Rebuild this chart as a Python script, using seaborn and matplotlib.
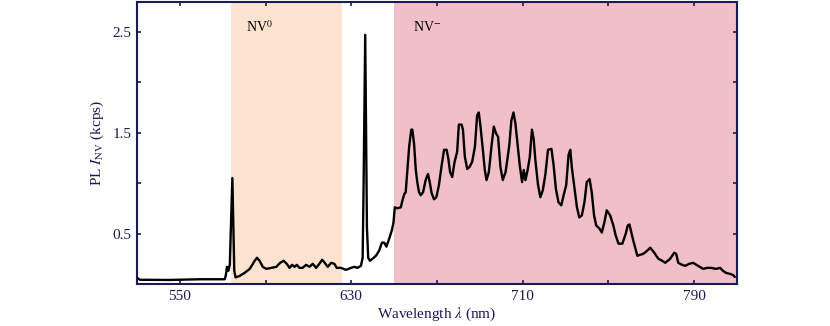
import numpy as np
import pandas as pd
import matplotlib
matplotlib.use("Agg")
import matplotlib.pyplot as plt
from matplotlib.ticker import FixedLocator
import seaborn as sns

# ---- data ----
wavelength = [530.0, 531.4, 545.0, 559.3, 570.9, 571.4, 572.0, 572.6, 573.3, 574.5,
              575.4, 576.0, 577.9, 580.2, 582.6, 584.1, 584.9, 586.0, 587.2,
              588.7, 590.3, 592.7, 595.0, 596.8, 598.4, 599.9, 601.2, 602.4, 603.5,
              604.6, 605.8, 607.3, 608.9, 610.5, 612.0, 613.6, 615.1, 616.4, 617.6,
              619.0, 620.6, 622.1, 623.2, 625.2, 627.5, 629.9, 631.4, 632.9, 634.5,
              635.3, 635.7, 636.5, 637.3, 637.9, 638.7, 639.9, 641.5, 643.0, 644.3,
              645.4, 646.4, 647.7, 648.9, 649.7, 650.3, 651.5, 653.1, 653.9, 654.7,
              655.4, 656.2, 657.0, 658.0, 658.5, 659.3, 660.1, 660.8, 661.6, 662.4,
              663.5, 664.7, 665.8, 666.6, 667.5, 668.6, 669.7, 670.9, 672.2, 673.3,
              674.5, 675.3, 676.1, 677.1, 678.2, 679.4, 680.2, 681.5, 682.1, 683.0,
              684.1, 685.2, 686.4, 687.7, 688.7, 689.5, 690.3, 691.4, 692.3, 693.1,
              694.2, 695.4, 696.5, 697.6, 698.5, 699.6, 700.7, 702.0, 703.2, 703.8,
              704.7, 705.7, 706.6, 707.7, 708.6, 709.7, 710.5, 711.3, 712.3, 713.3,
              714.3, 715.1, 715.9, 717.1, 718.2, 719.4, 720.6, 721.8, 723.4, 724.4,
              725.5, 726.7, 728.0, 729.1, 730.3, 731.4, 732.2, 732.9, 734.1, 735.3,
              736.4, 737.6, 738.8, 739.9, 741.2, 742.2, 743.3, 744.3, 745.8, 746.9,
              748.1, 749.2, 750.8, 752.3, 753.4, 754.7, 756.5, 758.1, 759.0, 759.8,
              761.6, 763.5, 766.3, 768.1, 769.5, 771.4, 773.3, 775.1, 776.5, 778.8,
              780.7, 781.6, 782.6, 784.4, 785.8, 787.7, 789.5, 791.9, 794.2, 796.1,
              797.9, 800.2, 802.1, 803.5, 804.9, 806.8, 808.1, 809.0]
intensity = [0.062, 0.042, 0.040, 0.047, 0.047, 0.08, 0.17, 0.13, 0.19, 1.05,
             0.13, 0.065, 0.08, 0.11, 0.15, 0.20, 0.23, 0.26, 0.23,
             0.17, 0.15, 0.16, 0.17, 0.21, 0.23, 0.20, 0.16, 0.19, 0.17,
             0.19, 0.16, 0.16, 0.19, 0.17, 0.20, 0.16, 0.20, 0.24, 0.21,
             0.17, 0.21, 0.20, 0.16, 0.16, 0.14, 0.16, 0.17, 0.16, 0.18,
             0.26, 0.90, 2.47, 0.56, 0.26, 0.23, 0.25, 0.28, 0.33, 0.41,
             0.41, 0.37, 0.45, 0.53, 0.61, 0.76, 0.75, 0.76, 0.83, 0.89,
             0.91, 1.13, 1.36, 1.53, 1.53, 1.39, 1.13, 1.01, 0.91, 0.88,
             0.91, 1.03, 1.09, 1.01, 0.90, 0.84, 0.86, 0.98, 1.18, 1.33,
             1.33, 1.24, 1.11, 1.06, 1.21, 1.31, 1.58, 1.58, 1.53, 1.26,
             1.14, 1.16, 1.21, 1.36, 1.67, 1.70, 1.56, 1.33, 1.13, 1.03,
             1.11, 1.36, 1.56, 1.49, 1.46, 1.16, 1.03, 1.11, 1.29, 1.39,
             1.62, 1.70, 1.59, 1.36, 1.18, 1.01, 1.13, 1.03, 1.13, 1.26,
             1.53, 1.44, 1.23, 0.99, 0.86, 0.93, 1.09, 1.33, 1.34, 1.18,
             0.94, 0.81, 0.78, 0.88, 0.98, 1.28, 1.33, 1.16, 0.96, 0.76,
             0.66, 0.68, 0.81, 1.01, 1.04, 0.91, 0.68, 0.58, 0.55, 0.51,
             0.61, 0.73, 0.68, 0.58, 0.48, 0.40, 0.40, 0.50, 0.58, 0.59,
             0.43, 0.28, 0.30, 0.33, 0.36, 0.31, 0.25, 0.23, 0.21, 0.25,
             0.31, 0.30, 0.21, 0.19, 0.18, 0.20, 0.21, 0.18, 0.15, 0.16,
             0.16, 0.15, 0.16, 0.13, 0.11, 0.10, 0.09, 0.07]

nv0_band = [573.8, 625.6]
nvm_band = [649.8, 812.0]
band_labels = [r"NV$^0$", r"NV$^{-}$"]
label_pos_x = [581.0, 659.0]
label_pos_y = [2.55, 2.55]

x_major = [550, 630, 710, 790]
x_minor = [590, 670, 750]
y_major = [0.5, 1.5, 2.5]
y_minor = [1.0, 2.0]

# ---- style ----
sns.set_theme(style="ticks")
navy = "#1b1b55"
plt.rcParams["font.family"] = ["Liberation Serif", "DejaVu Serif"]
plt.rcParams["mathtext.fontset"] = "stix"

df = pd.DataFrame({"wavelength": wavelength, "intensity": intensity})

fig = plt.figure(figsize=(8.3, 3.26), dpi=100)
ax = fig.add_axes([137 / 830, 1 - 284 / 326, 600 / 830, 282.5 / 326])

ax.axvspan(nv0_band[0], nv0_band[1], color="#fde3cf", lw=0, zorder=0)
ax.axvspan(nvm_band[0], nvm_band[1], color="#f0bfc8", lw=0, zorder=0)

sns.lineplot(data=df, x="wavelength", y="intensity", ax=ax, color="black",
             lw=1.7, zorder=3)

for t, xx, yy in zip(band_labels, label_pos_x, label_pos_y):
    ax.text(xx, yy, t, fontsize=10, color="black", ha="left", va="center")

ax.set_xlim(530, 810)
ax.set_ylim(0, 2.8)
ax.xaxis.set_major_locator(FixedLocator(x_major))
ax.xaxis.set_minor_locator(FixedLocator(x_minor))
ax.yaxis.set_major_locator(FixedLocator(y_major))
ax.yaxis.set_minor_locator(FixedLocator(y_minor))
ax.set_xticklabels([str(v) for v in x_major])
ax.set_yticklabels([str(v) for v in y_major])

ax.tick_params(which="both", direction="in", top=True, right=True,
               length=3, width=1.2, color=navy, labelcolor=navy,
               labelsize=11, pad=4)
for s in ax.spines.values():
    s.set_color(navy)
    s.set_linewidth(1.5)

ax.set_xlabel(r"Wavelength $\lambda$ (nm)", fontsize=11, color=navy, labelpad=2)
ax.set_ylabel(r"PL $I_{\rm NV}$ (kcps)", fontsize=11, color=navy, labelpad=5)

fig.savefig("out.png", dpi=100)
